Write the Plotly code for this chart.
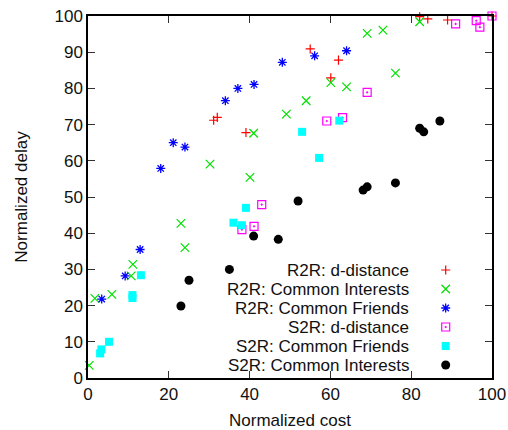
import plotly.graph_objects as go

# labels of the six series (legend order)
labels = ['R2R: d-distance', 'R2R: Common Interests', 'R2R: Common Friends',
          'S2R: d-distance', 'S2R: Common Friends', 'S2R: Common Interests']

# R2R: d-distance
r2r_dd_x = [31.1, 32.0, 39.1, 55.0, 60.1, 62.0, 82.1, 84.1, 89.0, 100]
r2r_dd_y = [71.2, 72.0, 67.8, 90.9, 82.9, 87.8, 99.8, 99.2, 98.9, 100]

# R2R: Common Interests
r2r_ci_x = [0.3, 1.7, 5.9, 10.7, 11.1, 23.0, 24.0, 30.2, 40.1, 41.0, 49.1,
            54.0, 60.1, 64.0, 69.1, 73.0, 76.1, 82.1]
r2r_ci_y = [3.5, 22.0, 23.1, 28.2, 31.4, 42.7, 36.0, 59.1, 55.4, 67.6, 72.9,
            76.6, 81.6, 80.4, 95.2, 96.1, 84.2, 98.4]

# R2R: Common Friends
r2r_cf_x = [3.4, 9.2, 12.9, 18.0, 21.1, 24.0, 34.0, 37.1, 41.1, 48.1, 56.1, 64.0]
r2r_cf_y = [21.8, 28.2, 35.5, 57.9, 65.0, 63.8, 76.6, 80.0, 81.1, 87.2, 89.0, 90.4]

# S2R: d-distance
s2r_dd_x = [38.1, 41.1, 43.0, 59.1, 63.0, 69.1, 91.0, 96.1, 97.0, 100]
s2r_dd_y = [41.0, 41.9, 47.9, 71.0, 71.9, 78.9, 97.8, 98.7, 96.9, 100]

# S2R: Common Friends
s2r_cf_x = [3.0, 3.3, 5.2, 11.0, 11.0, 13.1, 36.0, 38.1, 39.1, 53.0, 57.2, 62.2]
s2r_cf_y = [6.8, 7.9, 10.0, 22.1, 22.9, 28.4, 42.9, 42.2, 47.0, 68.0, 60.8, 71.1]

# S2R: Common Interests
s2r_ci_x = [23.0, 25.0, 35.0, 41.0, 47.1, 52.0, 68.1, 69.1, 76.1, 82.1, 83.1, 87.1]
s2r_ci_y = [19.9, 27.0, 30.0, 39.2, 38.3, 48.9, 51.9, 52.8, 53.9, 69.0, 68.0, 71.0]

xs = [r2r_dd_x, r2r_ci_x, r2r_cf_x, s2r_dd_x, s2r_cf_x, s2r_ci_x]
ys = [r2r_dd_y, r2r_ci_y, r2r_cf_y, s2r_dd_y, s2r_cf_y, s2r_ci_y]

styles = [
    dict(symbol='cross-thin-open', size=6.5, color='#ff0000', line=dict(width=1.2, color='#ff0000')),
    dict(symbol='x-thin-open', size=8.5, color='#00e000', line=dict(width=1.2, color='#00e000')),
    dict(symbol='asterisk-open', size=7.5, color='#0000ff', line=dict(width=1.3, color='#0000ff')),
    dict(symbol='square-open-dot', size=8, color='#ff00ff', line=dict(width=1.2, color='#ff00ff')),
    dict(symbol='square', size=8, color='#00ffff', line=dict(width=0)),
    dict(symbol='circle', size=9, color='#000000', line=dict(width=0)),
]

fig = go.Figure()
for lab, x, y, st in zip(labels, xs, ys, styles):
    fig.add_trace(go.Scatter(
        x=x, y=y, mode='markers', marker=st, name='',
        hovertemplate=lab + ': (%{x}, %{y})<extra></extra>',
        cliponaxis=False))

FONT = 'Liberation Sans, Arial, sans-serif'

# legend labels drawn to the left of the symbols (gnuplot style)
row0 = 270       # px of first legend row
rowh = 19        # plotly legend row height
for i, lab in enumerate(labels):
    py = row0 + rowh * i
    fig.add_annotation(
        text=lab, xref='paper', yref='paper', x=(411 - 88) / 404,
        y=(378 - py) / 362, xanchor='right', yanchor='middle',
        showarrow=False, font=dict(family=FONT, size=17, color='#111'))

axis = dict(range=[0, 100], showgrid=False, zeroline=False, automargin=False,
            showline=True, linecolor='#000', linewidth=1.5, mirror='ticks',
            ticks='inside', ticklen=7, tickwidth=1.2, tickcolor='#333',
            tickfont=dict(family=FONT, size=17, color='#111'))

fig.update_layout(
    width=508, height=430,
    margin=dict(l=88, r=16, t=16, b=52),
    paper_bgcolor='white', plot_bgcolor='white',
    font=dict(family=FONT, size=17, color='#111'),
    xaxis=dict(axis, dtick=20, title=dict(text='Normalized cost',
                                          font=dict(family=FONT, size=17))),
    yaxis=dict(axis, dtick=10, title=dict(text='Normalized delay', standoff=23,
                                          font=dict(family=FONT, size=17))),
    legend=dict(x=(425.7 - 88) / 404, y=(378 - 255.5) / 362,
                xanchor='left', yanchor='top', bgcolor='rgba(0,0,0,0)',
                font=dict(size=10), tracegroupgap=0, itemwidth=30),
    showlegend=True,
)

# drop the browser's default 8px body margin so the figure sits at the page corner
fig.write_html('out.html', config={'displayModeBar': False},
               post_script="document.body.style.margin='0';")
